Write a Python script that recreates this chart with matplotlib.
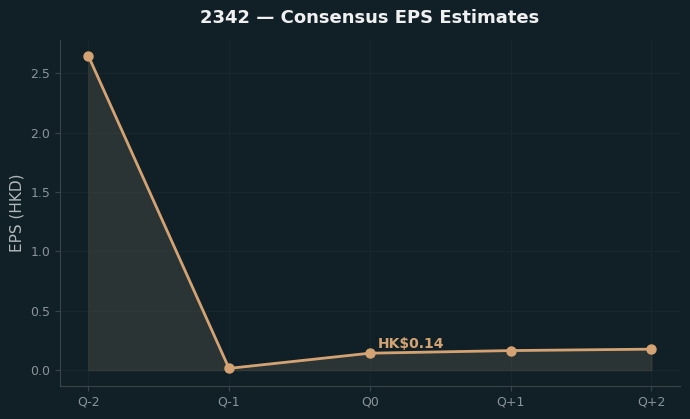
import matplotlib.pyplot as plt

# Data
quarters = ['Q-2', 'Q-1', 'Q0', 'Q+1', 'Q+2']
eps = [2.65, 0.015, 0.143, 0.165, 0.177]

bg = '#112027'
line_color = '#d4a373'

fig = plt.figure(figsize=(6.9, 4.19), dpi=100, facecolor=bg)
ax = fig.add_axes([0.087, 0.079, 0.898, 0.826])
ax.set_facecolor(bg)

x = list(range(len(quarters)))
ax.fill_between(x, eps, 0, color='#5a5a52', alpha=0.35, edgecolor='#4a4a40', linewidth=1)
ax.plot(x, eps, color=line_color, linewidth=2, marker='o', markersize=6.5, zorder=3)

ax.annotate('HK$%.2f' % eps[2], (x[2], eps[2]), xytext=(6, 4), textcoords='offset points',
            color=line_color, fontsize=10, fontweight='bold')

ax.set_xticks(x)
ax.set_xticklabels(quarters)
ax.set_ylabel('EPS (HKD)', color='#b0b8bc', fontsize=11)
ax.set_title('2342 — Consensus EPS Estimates', color='#f0f0f0', fontsize=13,
             fontweight='bold', pad=12)

ax.grid(True, color='#18272d', linewidth=0.8)
ax.set_axisbelow(True)
for s in ['top', 'right']:
    ax.spines[s].set_visible(False)
for s in ['left', 'bottom']:
    ax.spines[s].set_color('#3a4448')
ax.tick_params(colors='#3a4448', labelcolor='#8a9399', labelsize=9)

fig.savefig('out.png', facecolor=bg)
